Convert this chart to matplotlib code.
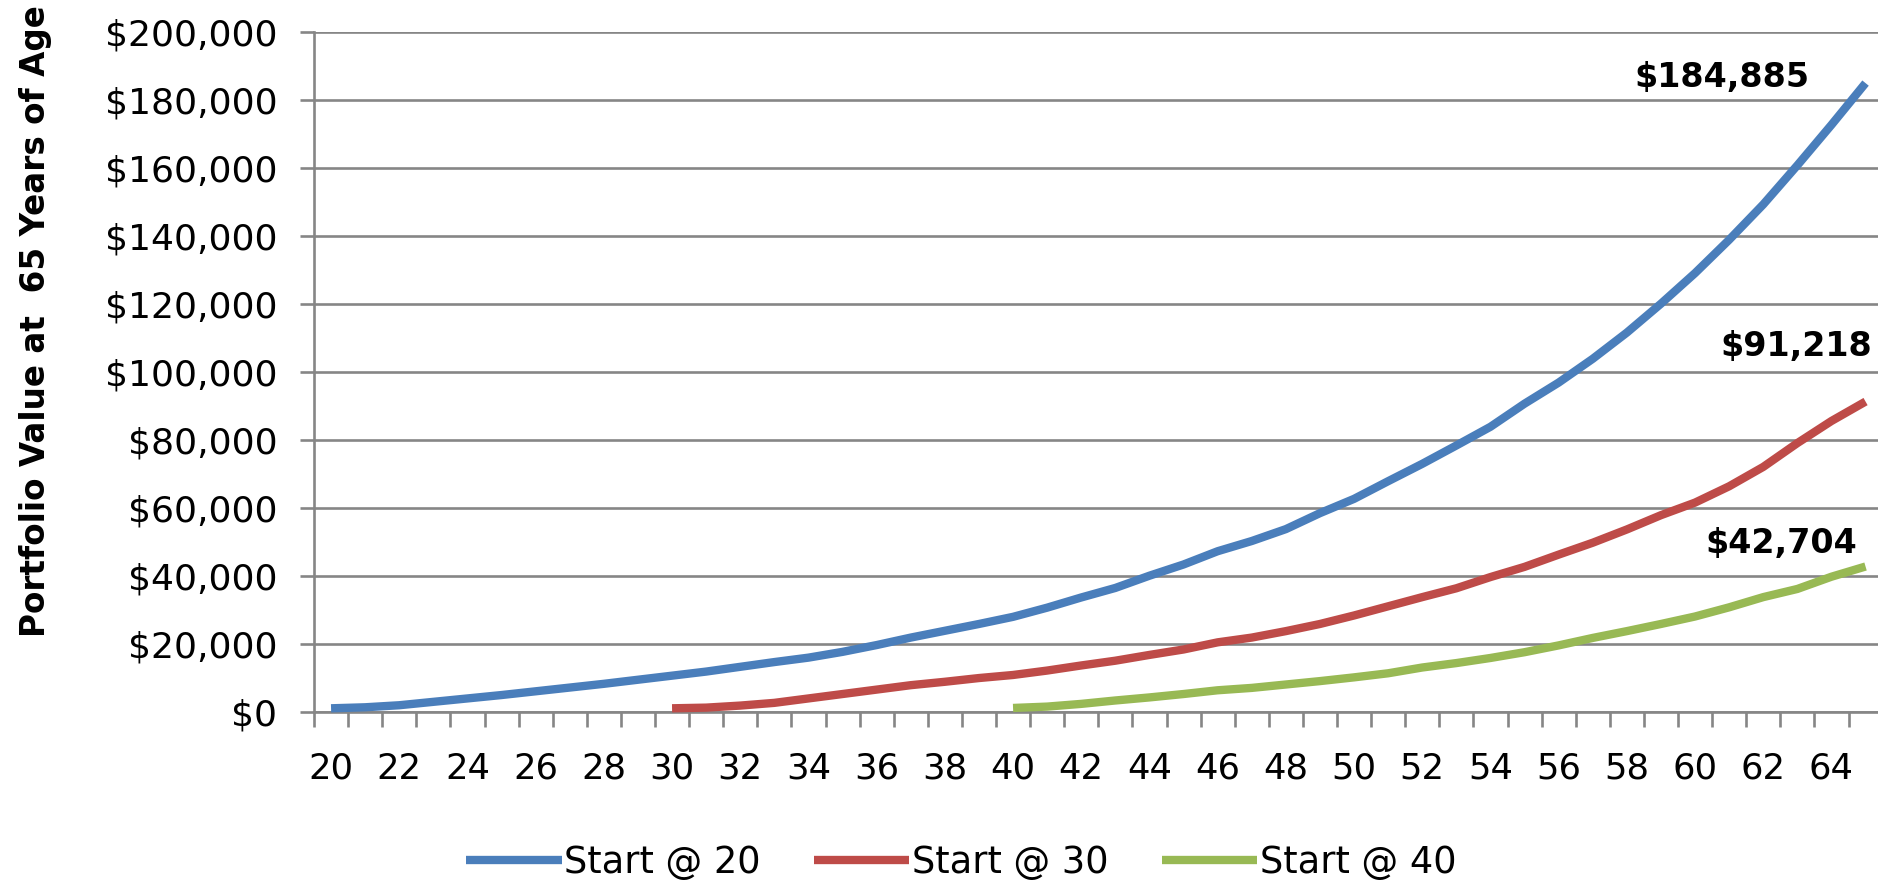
import matplotlib
matplotlib.use("Agg")
import matplotlib.pyplot as plt
from matplotlib.lines import Line2D
from matplotlib.ticker import FixedLocator, FuncFormatter

# Portfolio value by age for three starting ages
ages_20 = list(range(20, 66))
start_20 = [1000, 1300, 1900, 2900, 3900, 4900, 6000, 7100, 8200, 9400,
            10600, 11800, 13200, 14600, 15900, 17600, 19600, 21800, 23800, 25800,
            27900, 30600, 33600, 36400, 40000, 43300, 47200, 50200, 53700, 58400,
            62600, 67800, 72900, 78300, 83800, 90600, 96800, 103800, 111500, 120000,
            129000, 138800, 149200, 160700, 172600, 184885]

ages_30 = list(range(30, 66))
start_30 = [1000, 1200, 1800, 2600, 3900, 5200, 6500, 7800, 8800, 9900,
            10800, 12100, 13600, 15000, 16700, 18300, 20400, 21800, 23700, 25800,
            28300, 31000, 33700, 36300, 39600, 42600, 46200, 49700, 53600, 57800,
            61500, 66300, 72000, 79000, 85500, 91218]

ages_40 = list(range(40, 66))
start_40 = [1100, 1500, 2300, 3300, 4200, 5200, 6300, 7000, 8000, 9000,
            10100, 11300, 13000, 14300, 15800, 17500, 19500, 21700, 23700, 25800,
            28000, 30700, 33700, 36100, 39700, 42704]

series_names = ["Start @ 20", "Start @ 30", "Start @ 40"]
series_colors = ["#4A7EBB", "#BE4B48", "#98B954"]
age_labels = list(range(20, 65, 2))
value_ticks = list(range(0, 200001, 20000))
y_title = "Portfolio Value at  65 Years of Age"

W, H = 1878, 885
fig = plt.figure(figsize=(W / 100, H / 100), dpi=100)
fig.patch.set_facecolor("white")

left_px, right_px, top_px, bottom_px = 314, 1878, 31.7, 711.7
cat_w = 34.1
ax = fig.add_axes([left_px / W, (H - bottom_px) / H,
                   (right_px - left_px) / W, (bottom_px - top_px) / H])

grid_c = "#868686"
grid_w = 1.9

ax.set_xlim(19.5, 19.5 + (right_px - left_px) / cat_w)
ax.set_ylim(0, 200000)

ax.yaxis.grid(True, color=grid_c, linewidth=grid_w)
ax.set_axisbelow(True)
for side in ("top", "right"):
    ax.spines[side].set_visible(False)
for side in ("left", "bottom"):
    ax.spines[side].set_color(grid_c)
    ax.spines[side].set_linewidth(grid_w)

ax.yaxis.set_major_locator(FixedLocator(value_ticks))
ax.yaxis.set_major_formatter(FuncFormatter(lambda v, p: "${:,.0f}".format(v)))
ax.tick_params(axis="y", length=10, width=grid_w, color=grid_c, pad=16.5,
               labelsize=26, labelcolor="black")

ax.xaxis.set_major_locator(FixedLocator(age_labels))
ax.xaxis.set_major_formatter(FuncFormatter(lambda v, p: "{:d}".format(int(round(v)))))
ax.xaxis.set_minor_locator(FixedLocator([a - 0.5 for a in range(20, 66)]))
ax.tick_params(axis="x", which="major", length=0, pad=29, labelsize=25.5,
               labelcolor="black")
ax.tick_params(axis="x", which="minor", length=11, width=grid_w, color=grid_c)

series = [(ages_20, start_20), (ages_30, start_30), (ages_40, start_40)]
for (xs, ys), name, col in zip(series, series_names, series_colors):
    ax.plot(xs, ys, color=col, linewidth=6, solid_capstyle="butt",
            solid_joinstyle="round", label=name, clip_on=False, zorder=3)

# End-value labels
offsets = [(-56, 6), (7, 55), (-8, 23)]
for (xs, ys), (dx, dy) in zip(series, offsets):
    ax.annotate("${:,.0f}".format(ys[-1]), xy=(xs[-1], ys[-1]),
                xytext=(dx, dy), textcoords="offset pixels",
                ha="right", va="center", fontsize=24, fontweight="bold",
                color="black", zorder=4)

handles = [Line2D([], [], color=c, linewidth=6, solid_capstyle="butt")
           for c in series_colors]
fig.legend(handles, series_names, loc="center", bbox_to_anchor=(961 / W, 1 - 862 / H),
           ncol=3, frameon=False, fontsize=26.5, handlelength=2.6,
           handletextpad=0.06, columnspacing=1.45)

fig.text(36 / W, 1 - 321 / H, y_title, rotation=90, ha="center", va="center",
         fontsize=23.5, fontweight="bold", color="black")

fig.savefig("out.png", dpi=100, facecolor="white")
